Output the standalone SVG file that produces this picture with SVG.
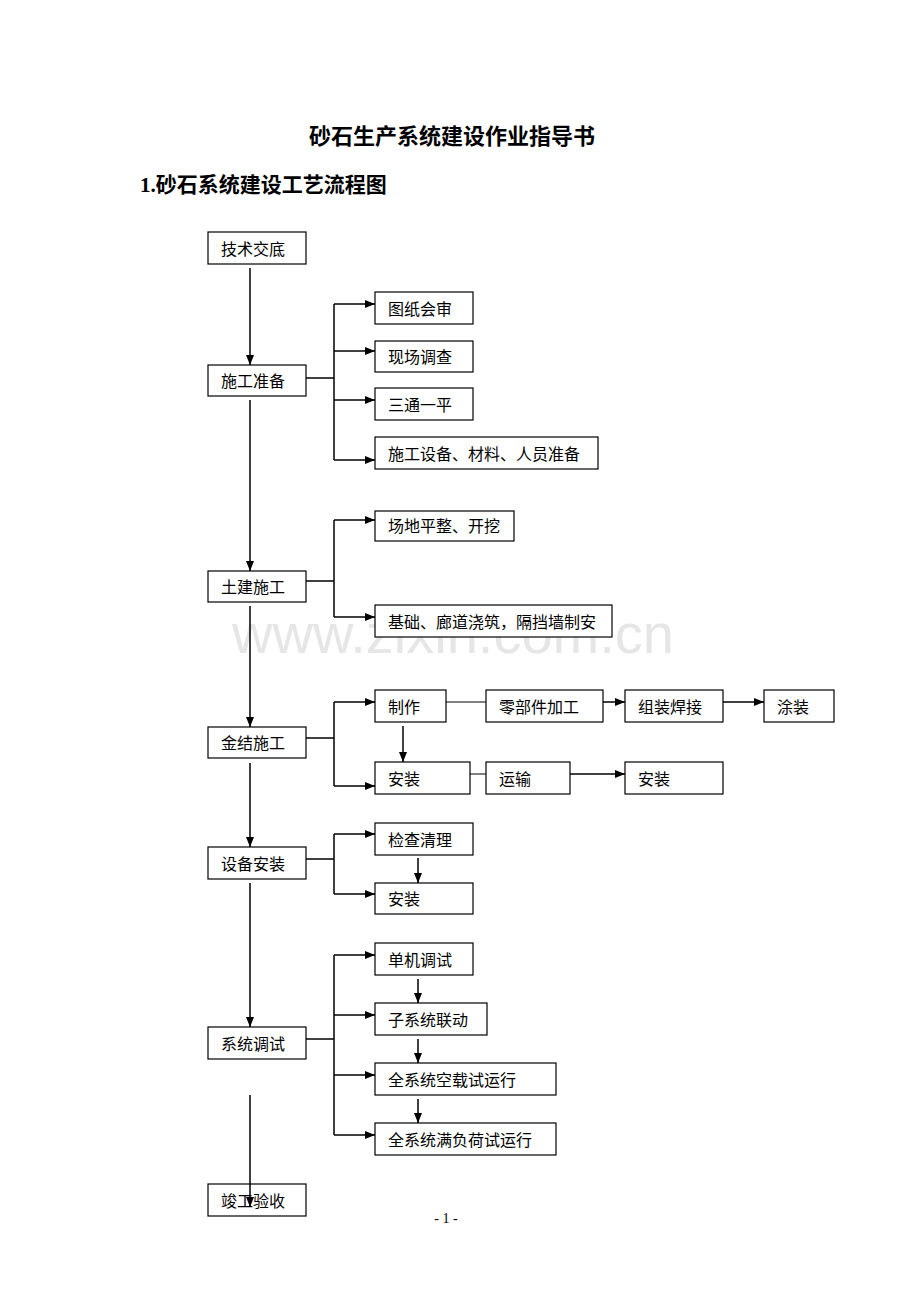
<svg xmlns="http://www.w3.org/2000/svg" width="920" height="1302" viewBox="0 0 920 1302">
<defs>
<marker id="ah" markerWidth="10" markerHeight="8" refX="10" refY="4" orient="auto" markerUnits="userSpaceOnUse"><path d="M0,0 L10,4 L0,8 z" fill="#000"/></marker>
<style>
.b rect{fill:#fff;stroke:#000;stroke-width:1.2}
.b text{font-family:"Liberation Serif","Noto Sans CJK SC",serif;font-size:16px;fill:#000}
.c line,.c polyline{stroke:#000;stroke-width:1.5;fill:none}
.a{marker-end:url(#ah)}
</style>
</defs>
<rect width="920" height="1302" fill="#fff"/>
<text x="232" y="653" font-family="Liberation Sans, sans-serif" font-size="56" fill="#e6e6e6">www.zixin.com.cn</text>
<text x="452" y="144" text-anchor="middle" font-family="Liberation Serif,'Noto Sans CJK SC',serif" font-size="22" font-weight="bold">砂石生产系统建设作业指导书</text>
<text x="140" y="192" font-family="Liberation Serif,'Noto Sans CJK SC',serif" font-size="21" font-weight="bold">1.砂石系统建设工艺流程图</text>
<text x="446" y="1223" text-anchor="middle" font-family="Liberation Serif,serif" font-size="14">- 1 -</text>
<g class="c">
<line class="a" x1="250" y1="268" x2="250" y2="365"/>
<line class="a" x1="250" y1="400" x2="250" y2="571"/>
<line class="a" x1="250" y1="606" x2="250" y2="727"/>
<line class="a" x1="250" y1="763" x2="250" y2="847"/>
<line class="a" x1="250" y1="883" x2="250" y2="1027"/>
<line class="a" x1="250" y1="1095" x2="250" y2="1207"/>
<line x1="306" y1="378" x2="334" y2="378"/>
<line x1="334" y1="304" x2="334" y2="460"/>
<line class="a" x1="334" y1="304" x2="375" y2="304"/>
<line class="a" x1="334" y1="351" x2="375" y2="351"/>
<line class="a" x1="334" y1="400" x2="375" y2="400"/>
<line class="a" x1="334" y1="460" x2="375" y2="460"/>
<line x1="306" y1="581" x2="334" y2="581"/>
<line x1="334" y1="520" x2="334" y2="617"/>
<line class="a" x1="334" y1="520" x2="375" y2="520"/>
<line class="a" x1="334" y1="617" x2="375" y2="617"/>
<line x1="306" y1="738" x2="334" y2="738"/>
<line x1="334" y1="702" x2="334" y2="786"/>
<line class="a" x1="334" y1="702" x2="375" y2="702"/>
<line class="a" x1="334" y1="786" x2="375" y2="786"/>
<line x1="446" y1="702" x2="486" y2="702" style="stroke-width:1"/>
<line class="a" x1="603" y1="702" x2="625" y2="702"/>
<line class="a" x1="723" y1="702" x2="764" y2="702"/>
<line x1="470" y1="774" x2="486" y2="774" style="stroke-width:1"/>
<line class="a" x1="570" y1="774" x2="625" y2="774"/>
<line class="a" x1="403" y1="726" x2="403" y2="762"/>
<line x1="306" y1="859" x2="334" y2="859"/>
<line x1="334" y1="834" x2="334" y2="894"/>
<line class="a" x1="334" y1="834" x2="375" y2="834"/>
<line class="a" x1="334" y1="894" x2="375" y2="894"/>
<line class="a" x1="418" y1="858" x2="418" y2="883"/>
<line x1="306" y1="1039" x2="334" y2="1039"/>
<line x1="334" y1="955" x2="334" y2="1135"/>
<line class="a" x1="334" y1="955" x2="375" y2="955"/>
<line class="a" x1="334" y1="1015" x2="375" y2="1015"/>
<line class="a" x1="334" y1="1075" x2="375" y2="1075"/>
<line class="a" x1="334" y1="1135" x2="375" y2="1135"/>
<line class="a" x1="418" y1="979" x2="418" y2="1003"/>
<line class="a" x1="418" y1="1039" x2="418" y2="1063"/>
<line class="a" x1="418" y1="1099" x2="418" y2="1123"/>
</g>
<g class="b">
<g id="n1"><rect x="208" y="232" width="98" height="32"/><text x="221" y="255">技术交底</text></g>
<g id="n2"><rect x="208" y="365" width="98" height="31"/><text x="221" y="387">施工准备</text></g>
<g id="n3"><rect x="208" y="571" width="98" height="31"/><text x="221" y="593">土建施工</text></g>
<g id="n4"><rect x="208" y="727" width="98" height="31"/><text x="221" y="749">金结施工</text></g>
<g id="n5"><rect x="208" y="847" width="98" height="32"/><text x="221" y="870">设备安装</text></g>
<g id="n6"><rect x="208" y="1027" width="98" height="32"/><text x="221" y="1050">系统调试</text></g>
<g id="n7"><rect x="208" y="1184" width="98" height="32"/><text x="221" y="1207">竣工验收</text></g>
<g id="a1"><rect x="375" y="292" width="98" height="32"/><text x="388" y="315">图纸会审</text></g>
<g id="a2"><rect x="375" y="341" width="98" height="31"/><text x="388" y="363">现场调查</text></g>
<g id="a3"><rect x="375" y="388" width="98" height="32"/><text x="388" y="411">三通一平</text></g>
<g id="a4"><rect x="375" y="437" width="223" height="32"/><text x="388" y="460">施工设备、材料、人员准备</text></g>
<g id="b1"><rect x="375" y="511" width="139" height="30"/><text x="388" y="532">场地平整、开挖</text></g>
<g id="b2"><rect x="375" y="605" width="237" height="32"/><text x="388" y="628">基础、廊道浇筑，隔挡墙制安</text></g>
<g id="c1"><rect x="375" y="690" width="71" height="32"/><text x="388" y="713">制作</text></g>
<g id="c2"><rect x="486" y="690" width="117" height="32"/><text x="499" y="713">零部件加工</text></g>
<g id="c3"><rect x="625" y="690" width="98" height="32"/><text x="638" y="713">组装焊接</text></g>
<g id="c4"><rect x="764" y="690" width="70" height="32"/><text x="777" y="713">涂装</text></g>
<g id="c5"><rect x="375" y="762" width="95" height="32"/><text x="388" y="785">安装</text></g>
<g id="c6"><rect x="486" y="762" width="84" height="32"/><text x="499" y="785">运输</text></g>
<g id="c7"><rect x="625" y="762" width="98" height="32"/><text x="638" y="785">安装</text></g>
<g id="d1"><rect x="375" y="823" width="98" height="32"/><text x="388" y="846">检查清理</text></g>
<g id="d2"><rect x="375" y="883" width="98" height="31"/><text x="388" y="905">安装</text></g>
<g id="e1"><rect x="375" y="943" width="98" height="32"/><text x="388" y="966">单机调试</text></g>
<g id="e2"><rect x="375" y="1003" width="112" height="32"/><text x="388" y="1026">子系统联动</text></g>
<g id="e3"><rect x="375" y="1063" width="181" height="32"/><text x="388" y="1086">全系统空载试运行</text></g>
<g id="e4"><rect x="375" y="1123" width="181" height="32"/><text x="388" y="1146">全系统满负荷试运行</text></g>
</g>
<line class="a" x1="250" y1="1184" x2="250" y2="1207" stroke="#000" stroke-width="1.5" marker-end="url(#ah)"/>
</svg>
